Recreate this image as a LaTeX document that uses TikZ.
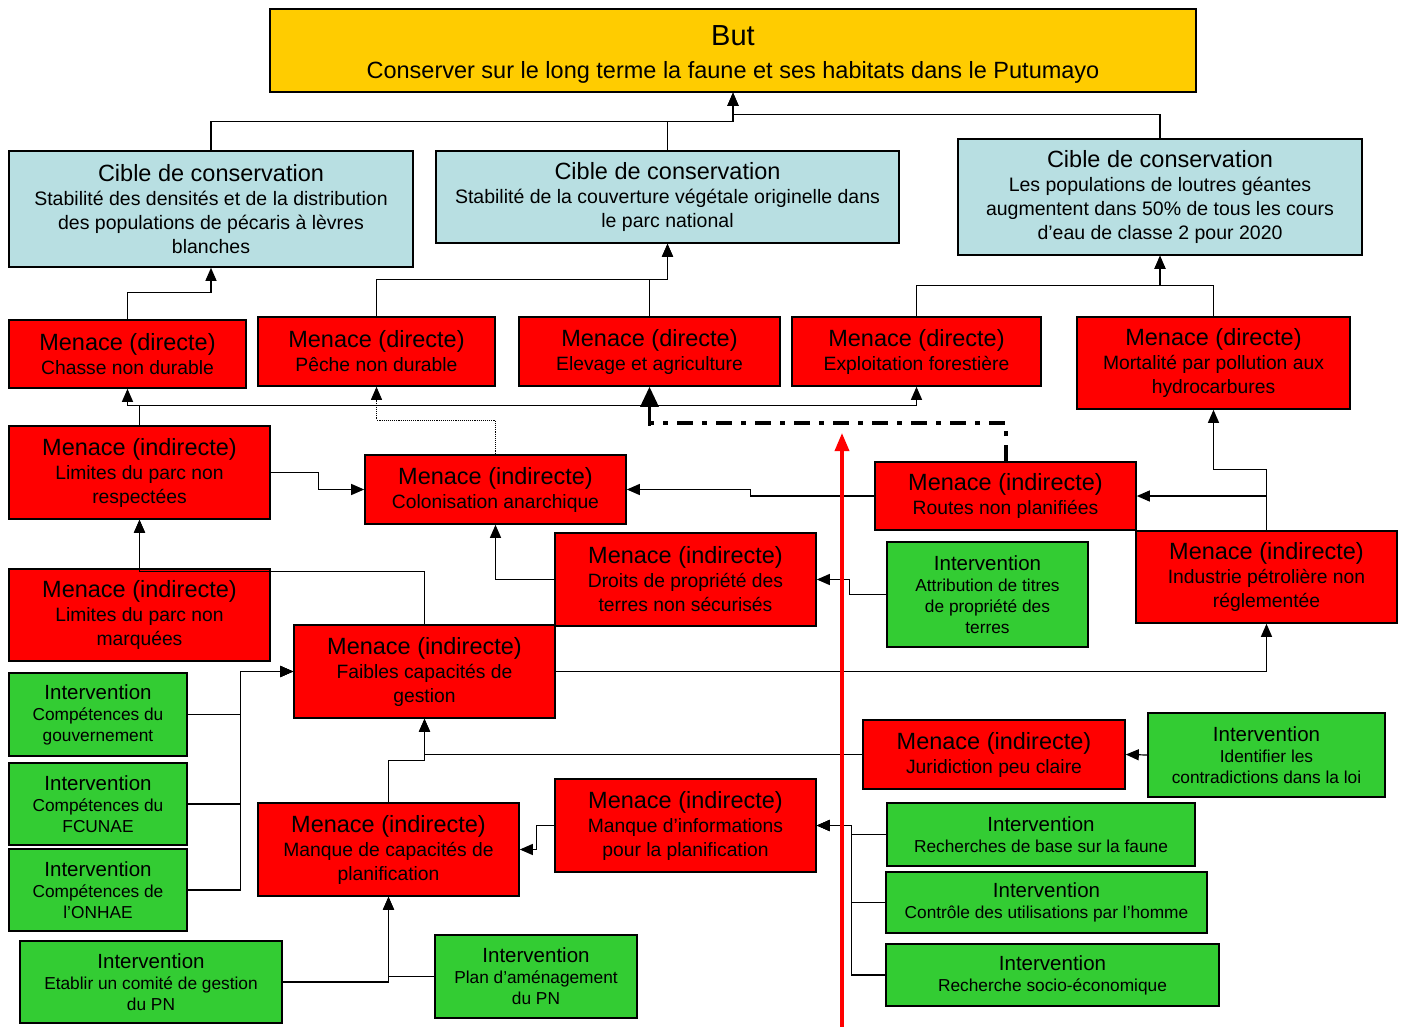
\documentclass[tikz,border=0pt]{standalone}
\usepackage{fontspec}
\setmainfont{Liberation Sans}
\usetikzlibrary{arrows.meta}
\definecolor{goalc}{HTML}{FFCC00}
\definecolor{cibc}{HTML}{B8DFE2}
\definecolor{menc}{HTML}{FF0000}
\definecolor{intc}{HTML}{33CC33}
\newcommand\Tm[1]{{\fontsize{23.5}{26}\selectfont #1}}
\newcommand\Ti[1]{{\fontsize{20.5}{22}\selectfont #1}}
\newcommand\Tg[1]{{\fontsize{29}{32}\selectfont #1}}
\tikzset{
  box/.style={draw=black, line width=1.6pt, inner sep=0pt, align=center, anchor=center},
  goalbox/.style={box, fill=goalc, font=\fontsize{23.5}{33}\selectfont},
  cibbox/.style={box, fill=cibc, font=\fontsize{19.5}{24}\selectfont},
  menbox/.style={box, fill=menc, font=\fontsize{19.3}{24}\selectfont},
  intbox/.style={box, fill=intc, font=\fontsize{17.3}{21}\selectfont},
  conn/.style={line width=1.2pt, -{Triangle[length=13pt,width=11pt]}},
  dotconn/.style={line width=0.9pt, densely dotted, -{Triangle[length=13pt,width=11pt]}},
  dashdot/.style={line width=4pt, dash pattern=on 16pt off 9pt on 5pt off 9pt},
  thickconn/.style={line width=3pt, -{Triangle[length=20pt,width=18pt]}},
  redarrow/.style={line width=3.5pt, draw=menc, -{Triangle[length=18pt,width=14pt]}}
}
\begin{document}
\begin{tikzpicture}[x=1pt,y=-1pt]
\useasboundingbox (0,0) rectangle (1401,1027);
% goal and targets
\node[goalbox, minimum width=926pt, minimum height=83pt] (goal) at (733,50.5)
  {\Tg{\rule{0pt}{27pt}But}\\Conserver sur le long terme la faune et ses habitats dans le Putumayo};
\node[cibbox, minimum width=404pt, minimum height=116pt] (c1) at (211,209)
  {\Tm{Cible de conservation}\\Stabilité des densités et de la distribution\\des populations de pécaris à lèvres\\blanches};
\node[cibbox, minimum width=463pt, minimum height=92pt] (c2) at (667.5,197)
  {\Tm{Cible de conservation}\\Stabilité de la couverture végétale originelle dans\\le parc national};
\node[cibbox, minimum width=404pt, minimum height=116pt] (c3) at (1160,197)
  {\Tm{Cible de conservation}\\Les populations de loutres géantes\\augmentent dans 50\% de tous les cours\\d’eau de classe 2 pour 2020};
% direct threats
\node[menbox, minimum width=237pt, minimum height=68pt] (d1) at (127.5,354)
  {\Tm{Menace (directe)}\\Chasse non durable};
\node[menbox, minimum width=237pt, minimum height=69pt] (d2) at (376.5,351.5)
  {\Tm{Menace (directe)}\\Pêche non durable};
\node[menbox, minimum width=261pt, minimum height=69pt] (d3) at (649.5,351.5)
  {\Tm{Menace (directe)}\\Elevage et agriculture};
\node[menbox, minimum width=249pt, minimum height=69pt] (d4) at (916.5,351.5)
  {\Tm{Menace (directe)}\\Exploitation forestière};
\node[menbox, minimum width=273pt, minimum height=92pt] (d5) at (1213.5,363)
  {\Tm{Menace (directe)}\\Mortalité par pollution aux\\hydrocarbures};
% indirect threats
\node[menbox, minimum width=261pt, minimum height=93pt] (lr) at (139.5,472.5)
  {\Tm{Menace (indirecte)}\\Limites du parc non\\respectées};
\node[menbox, minimum width=261pt, minimum height=69pt] (col) at (495.5,489.5)
  {\Tm{Menace (indirecte)}\\Colonisation anarchique};
\node[menbox, minimum width=261pt, minimum height=68pt] (rt) at (1005.5,496)
  {\Tm{Menace (indirecte)}\\Routes non planifiées};
\node[menbox, minimum width=261pt, minimum height=93pt] (dr) at (685.5,579.5)
  {\Tm{Menace (indirecte)}\\Droits de propriété des\\terres non sécurisés};
\node[menbox, minimum width=261pt, minimum height=92pt] (ind) at (1266.5,577)
  {\Tm{Menace (indirecte)}\\Industrie pétrolière non\\réglementée};
\node[menbox, minimum width=261pt, minimum height=92pt] (lm) at (139.5,615)
  {\Tm{Menace (indirecte)}\\Limites du parc non\\marquées};
\node[menbox, minimum width=261pt, minimum height=93pt] (fc) at (424.5,671.5)
  {\Tm{Menace (indirecte)}\\Faibles capacités de\\gestion};
\node[menbox, minimum width=262pt, minimum height=69pt] (jur) at (994,754.5)
  {\Tm{Menace (indirecte)}\\Juridiction peu claire};
\node[menbox, minimum width=261pt, minimum height=93pt] (mc) at (388.5,849.5)
  {\Tm{Menace (indirecte)}\\Manque de capacités de\\planification};
\node[menbox, minimum width=261pt, minimum height=93pt] (mi) at (685.5,825.5)
  {\Tm{Menace (indirecte)}\\Manque d’informations\\pour la planification};
% interventions
\node[intbox, minimum width=201pt, minimum height=105pt] (att) at (987.5,594.5)
  {\Ti{Intervention}\\Attribution de titres\\de propriété des\\terres};
\node[intbox, minimum width=178pt, minimum height=83pt] (ig) at (98,714.5)
  {\Ti{Intervention}\\Compétences du\\gouvernement};
\node[intbox, minimum width=178pt, minimum height=82pt] (if) at (98,804)
  {\Ti{Intervention}\\Compétences du\\FCUNAE};
\node[intbox, minimum width=178pt, minimum height=82pt] (io) at (98,890)
  {\Ti{Intervention}\\Compétences de\\l’ONHAE};
\node[intbox, minimum width=237pt, minimum height=84pt] (idl) at (1266.5,755)
  {\Ti{Intervention}\\Identifier les\\contradictions dans la loi};
\node[intbox, minimum width=308pt, minimum height=63pt] (rb) at (1041,834.5)
  {\Ti{Intervention}\\Recherches de base sur la faune};
\node[intbox, minimum width=321pt, minimum height=61pt] (ctl) at (1046.5,902.5)
  {\Ti{Intervention}\\Contrôle des utilisations par l’homme};
\node[intbox, minimum width=333pt, minimum height=62pt] (soc) at (1052.5,975)
  {\Ti{Intervention}\\Recherche socio-économique};
\node[intbox, minimum width=262pt, minimum height=82pt] (etb) at (151,982)
  {\Ti{Intervention}\\Etablir un comité de gestion\\du PN};
\node[intbox, minimum width=202pt, minimum height=83pt] (plan) at (536,976.5)
  {\Ti{Intervention}\\Plan d’aménagement\\du PN};
% connectors to goal
\draw[conn] (c1.north) -- ++(0,-29) -| (goal.south);
\draw[conn] (c2.north) -- ++(0,-29) -| (goal.south);
\draw[conn] (c3.north) -- ++(0,-24) -| (goal.south);
% direct threats to targets
\draw[conn] (d1.north) -- ++(0,-27) -| (c1.south);
\draw[conn] (d2.north) -- ++(0,-37) -| (c2.south);
\draw[conn] (d3.north) -- ++(0,-37) -| (c2.south);
\draw[conn] (d4.north) -- ++(0,-31) -| (c3.south);
\draw[conn] (d5.north) -- ++(0,-31) -| (c3.south);
% indirect threats
\draw[conn] (lr.north) -- ++(0,-20) -| (d1.south);
\draw[conn] (lr.north) -- ++(0,-20) -| (d4.south);
\draw[dotconn] (col.north) -- ++(0,-34) -| (d2.south);
\draw[dashdot] (rt.north) -- ++(0,-38) -| ([yshift=-38pt]d3.south);
\draw[thickconn] ([yshift=-39pt]d3.south) -- (d3.south);
\draw[conn] (lr.east) -- ++(48,0) |- (col.west);
\draw[conn] (lm.north) -- (lr.south);
\draw[conn] (fc.north) -- ++(0,-53) -| (lr.south);
\draw[conn] (dr.west) -| (col.south);
\draw[conn] (rt.west) -- ++(-124,0) |- (col.east);
\draw[conn] (ind.north) |- (rt.east);
\draw[conn] (ind.north) -- ++(0,-61) -| (d5.south);
\draw[conn] (att.west) -- ++(-37,0) |- (dr.east);
\draw[conn] (fc.east) -| (ind.south);
\draw[conn] (ig.east) -- ++(53,0) |- (fc.west);
\draw[conn] (if.east) -- ++(53,0) |- (fc.west);
\draw[conn] (io.east) -- ++(53,0) |- (fc.west);
\draw[conn] (jur.west) -| (fc.south);
\draw[conn] (mc.north) -- ++(0,-42) -| (fc.south);
\draw[conn] (mi.west) -- ++(-18,0) |- (mc.east);
\draw[conn] (idl.west) -- (jur.east);
\draw[conn] (rb.west) -- ++(-35,0) |- (mi.east);
\draw[conn] (ctl.west) -- ++(-34,0) |- (mi.east);
\draw[conn] (soc.west) -- ++(-34,0) |- (mi.east);
\draw[conn] (etb.east) -| (mc.south);
\draw[conn] (plan.west) -| (mc.south);
% red arrow
\coordinate (redbot) at (842,1027);
\coordinate (redtop) at (842,433);
\draw[redarrow] (redbot) -- (redtop);
\end{tikzpicture}
\end{document}
